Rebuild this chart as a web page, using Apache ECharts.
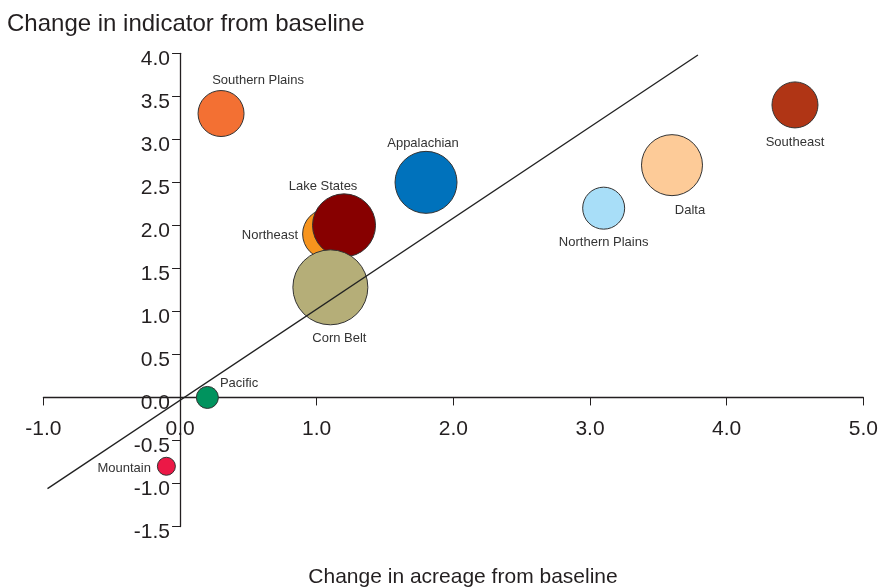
<!DOCTYPE html>
<html>
<head>
<meta charset="utf-8">
<script src="https://cdn.jsdelivr.net/npm/echarts@6/dist/echarts.min.js"></script>
<style>
  html, body { margin: 0; padding: 0; background: #fff; }
  #main { width: 879px; height: 587px; }
</style>
</head>
<body>
<div id="main"></div>
<script>
// regions and their values
const regions = ["Southern Plains", "Appalachian", "Southeast", "Dalta", "Northern Plains",
  "Pacific", "Mountain", "Northeast", "Lake States", "Corn Belt"];
const acreageChange = [0.3, 1.8, 4.5, 3.6, 3.1, 0.2, -0.1, 1.08, 1.2, 1.1];
const indicatorChange = [3.3, 2.5, 3.4, 2.7, 2.2, 0.0, -0.8, 1.9, 2.0, 1.28];
const bubbleSize = [46, 62, 46, 61, 42, 22, 18, 50, 63, 75];

// reference line end points [x, y]
const refLine = [[-0.97, -1.06], [3.79, 3.98]];

// colours and label placement per region
const regionColor = {
  "Southern Plains": "#F37033",
  "Appalachian": "#0072BC",
  "Southeast": "#B03515",
  "Dalta": "#FDCB98",
  "Northern Plains": "#A8DEF8",
  "Pacific": "#00935E",
  "Mountain": "#EC1846",
  "Northeast": "#F7941D",
  "Lake States": "#870000",
  "Corn Belt": "#B5AE78"
};
const labelStyle = {
  "Southern Plains": { position: "top", distance: 3, offset: [37, 0] },
  "Appalachian": { position: "top", distance: 1, offset: [-3, 0] },
  "Southeast": { position: "bottom", distance: 8, offset: [0, 0] },
  "Dalta": { position: "bottom", distance: 8, offset: [18, 0] },
  "Northern Plains": { position: "bottom", distance: 6, offset: [0, 0] },
  "Pacific": { position: "right", distance: 1, offset: [0, -14] },
  "Mountain": { position: "left", distance: 6, offset: [0, 2] },
  "Northeast": { position: "left", distance: 4, offset: [0, 1] },
  "Lake States": { position: "top", distance: 0, offset: [-21, 0] },
  "Corn Belt": { position: "bottom", distance: 7, offset: [9, 0] }
};

const font = "'Liberation Sans', Arial, Helvetica, sans-serif";
const ink = "#231F20";

// plot box
const W = 879, H = 587;
const gLeft = 43.4, gRight = 15.7, gTop = 53.3, gBottom = 60.5;
const xMin = -1, xMax = 5, yMin = -1.5, yMax = 4;
// shift axes so they cross at zero
const yAxisShift = (0 - xMin) / (xMax - xMin) * (W - gLeft - gRight);
const xAxisShift = (0 - yMin) / (yMax - yMin) * (H - gTop - gBottom);

const points = regions.map(function (name, i) {
  return {
    name: name,
    value: [acreageChange[i], indicatorChange[i], bubbleSize[i]],
    itemStyle: { color: regionColor[name] },
    label: labelStyle[name]
  };
});

const chart = echarts.init(document.getElementById("main"));

chart.setOption({
  animation: false,
  backgroundColor: "#fff",
  grid: { left: gLeft, right: gRight, top: gTop, bottom: gBottom, outerBoundsMode: "none", containLabel: false },
  xAxis: {
    type: "value",
    min: xMin,
    max: xMax,
    interval: 1,
    position: "bottom",
    offset: -xAxisShift,
    axisLine: { onZero: false, lineStyle: { color: ink, width: 1.3 } },
    axisTick: { show: true, length: 8, lineStyle: { color: ink, width: 1 } },
    axisLabel: {
      margin: 21,
      fontSize: 21,
      fontFamily: font,
      color: ink,
      formatter: function (v) { return v.toFixed(1); }
    },
    splitLine: { show: false }
  },
  yAxis: {
    type: "value",
    min: yMin,
    max: yMax,
    interval: 0.5,
    position: "left",
    offset: -yAxisShift,
    axisLine: { onZero: false, lineStyle: { color: ink, width: 1.3 } },
    axisTick: { show: true, length: 8, lineStyle: { color: ink, width: 1 } },
    axisLabel: {
      margin: 10,
      fontSize: 21,
      fontFamily: font,
      color: ink,
      verticalAlign: "top",
      lineHeight: 11,
      formatter: function (v) { return v.toFixed(1); }
    },
    splitLine: { show: false }
  },
  graphic: [
    {
      type: "text",
      x: 7,
      y: 12,
      style: { text: "Change in indicator from baseline", font: "24px " + font, fill: ink }
    },
    {
      type: "text",
      x: 463,
      y: 567,
      style: { text: "Change in acreage from baseline", font: "21px " + font, fill: ink, align: "center" }
    }
  ],
  series: [
    {
      type: "scatter",
      data: points,
      symbolSize: function (v) { return v[2]; },
      itemStyle: { borderColor: "#333", borderWidth: 1, opacity: 1 },
      label: {
        show: true,
        formatter: "{b}",
        fontSize: 13,
        fontFamily: font,
        color: "#333"
      },
      emphasis: { disabled: true },
      z: 2
    },
    {
      type: "line",
      data: refLine,
      symbol: "none",
      lineStyle: { color: "#222", width: 1.3 },
      z: 3
    }
  ]
});
</script>
</body>
</html>
